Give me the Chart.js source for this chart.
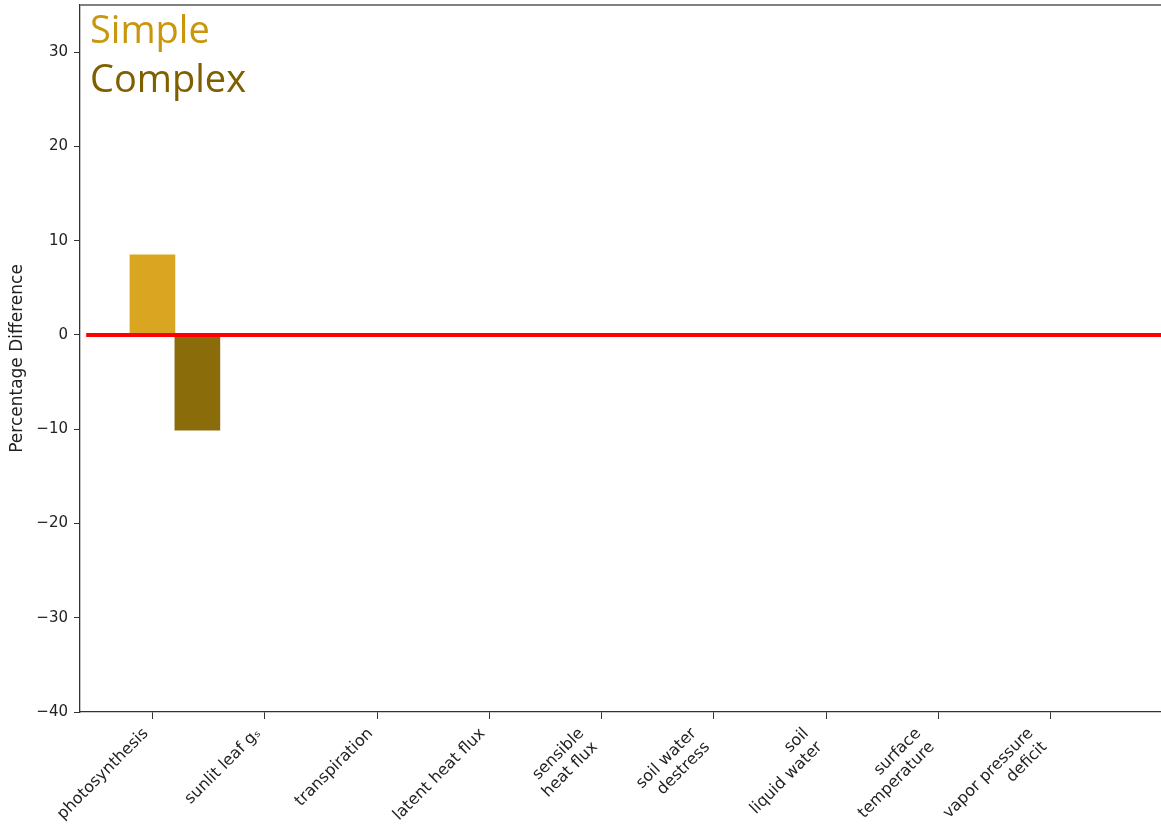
<!DOCTYPE html>
<html>
<head>
<meta charset="utf-8">
<script src="https://cdn.jsdelivr.net/npm/chart.js@4/dist/chart.umd.min.js"></script>
<style>
  body { margin: 0; background: #fff; }
  #chart { display: block; }
</style>
</head>
<body>
<canvas id="chart" width="1161" height="825"></canvas>
<script>
// variables along the x axis, one tick each
var categories = [
	["photosynthesis"],
	["sunlit leaf g\u209B"],
	["transpiration"],
	["latent heat flux"],
	["sensible", "heat flux"],
	["soil water", "destress"],
	["soil", "liquid water"],
	["surface", "temperature"],
	["vapor pressure", "deficit"]
]

// percentage difference per model (only photosynthesis has values)
var simpleX = [0]
var simpleValues = [8.5]
var complexX = [0.4]
var complexValues = [-10.1]

// zero reference line
var zeroLineX = [-0.59, 9.5]
var zeroLineY = [0, 0]

var yTicks = [-40, -30, -20, -10, 0, 10, 20, 30]

var SIMPLE_COLOR = '#DAA520'
var COMPLEX_COLOR = '#8B6C0B'
var TICK_FONT = 16
var TICK_LEN = 7

function toPoints(xs, ys) {
	return xs.map(function(x, i) { return {x: x, y: ys[i]} })
}

// top spine plus the two model names in the corner
var frame = {
	id: 'frame',
	afterDraw: function(chart) {
		var ctx = chart.ctx
		var a = chart.chartArea
		ctx.save()
		ctx.strokeStyle = '#808080'
		ctx.lineWidth = 2
		ctx.beginPath()
		ctx.moveTo(a.left, a.top)
		ctx.lineTo(a.right, a.top)
		ctx.stroke()

		ctx.font = '38px "Open Sans"'
		ctx.textBaseline = 'alphabetic'
		ctx.fillStyle = '#C9960C'
		ctx.fillText('Simple', a.left + 10, 43)
		ctx.fillStyle = '#7F6000'
		ctx.fillText('Complex', a.left + 10, 92)
		ctx.restore()
	}
}

// rotated x labels, right/top corner of the rotated block pinned under each tick
var xLabels = {
	id: 'xLabels',
	afterDraw: function(chart) {
		var ctx = chart.ctx
		var xs = chart.scales.x
		var lh = TICK_FONT * 1.2
		var c = Math.SQRT1_2
		ctx.save()
		ctx.font = TICK_FONT + 'px "DejaVu Sans"'
		ctx.fillStyle = '#222'
		ctx.textAlign = 'right'
		ctx.textBaseline = 'top'
		categories.forEach(function(lines, i) {
			var px = xs.getPixelForValue(i)
			var h = lines.length * lh
			ctx.save()
			ctx.translate(px - c * h, xs.top + TICK_LEN + 5)
			ctx.rotate(-Math.PI / 4)
			lines.forEach(function(line, k) {
				ctx.fillText(line, 0, k * lh + 2)
			})
			ctx.restore()
		})
		ctx.restore()
	}
}

new Chart(document.getElementById('chart'), {
	data: {
		datasets: [
			{
				type: 'line',
				label: 'zero',
				data: toPoints(zeroLineX, zeroLineY),
				borderColor: '#FF0000',
				borderWidth: 4,
				pointRadius: 0,
				order: 0
			},
			{
				type: 'bar',
				label: 'Simple',
				data: toPoints(simpleX, simpleValues),
				backgroundColor: SIMPLE_COLOR,
				barThickness: 45,
				grouped: false,
				order: 1
			},
			{
				type: 'bar',
				label: 'Complex',
				data: toPoints(complexX, complexValues),
				backgroundColor: COMPLEX_COLOR,
				barThickness: 45,
				grouped: false,
				order: 1
			}
		]
	},
	options: {
		responsive: false,
		animation: false,
		layout: { autoPadding: false, padding: { top: 5, right: 0, left: 0, bottom: 0 } },
		plugins: {
			legend: { display: false },
			tooltip: { enabled: false }
		},
		scales: {
			x: {
				type: 'linear',
				offset: false,
				min: -0.645,
				max: 8.98,
				afterBuildTicks: function(scale) {
					scale.ticks = categories.map(function(c, i) { return {value: i} })
				},
				afterFit: function(scale) {
					scale.height = 113
					scale.paddingLeft = 0
					scale.paddingRight = 0
				},
				ticks: { display: false, autoSkip: false },
				grid: {
					offset: false,
					drawOnChartArea: false,
					drawTicks: true,
					tickLength: TICK_LEN,
					color: '#333'
				},
				border: { display: true, color: '#333', width: 1.3 }
			},
			y: {
				min: -40,
				max: 35,
				afterBuildTicks: function(scale) {
					scale.ticks = yTicks.map(function(v) { return {value: v} })
				},
				afterFit: function(scale) {
					scale.width = 80
					scale.paddingTop = 0
					scale.paddingBottom = 0
				},
				ticks: {
					padding: 6,
					color: '#222',
					font: { family: 'DejaVu Sans', size: 15 },
					callback: function(v) { return v < 0 ? '\u2212' + Math.abs(v) : String(v) }
				},
				grid: {
					drawOnChartArea: false,
					drawTicks: true,
					tickLength: 6,
					color: '#333'
				},
				border: { display: true, color: '#333', width: 1.3 },
				title: {
					display: true,
					text: 'Percentage Difference',
					color: '#222',
					font: { family: 'DejaVu Sans', size: 17 },
					padding: { top: 7, bottom: 0 }
				}
			}
		}
	},
	plugins: [frame, xLabels]
})
</script>
</body>
</html>
